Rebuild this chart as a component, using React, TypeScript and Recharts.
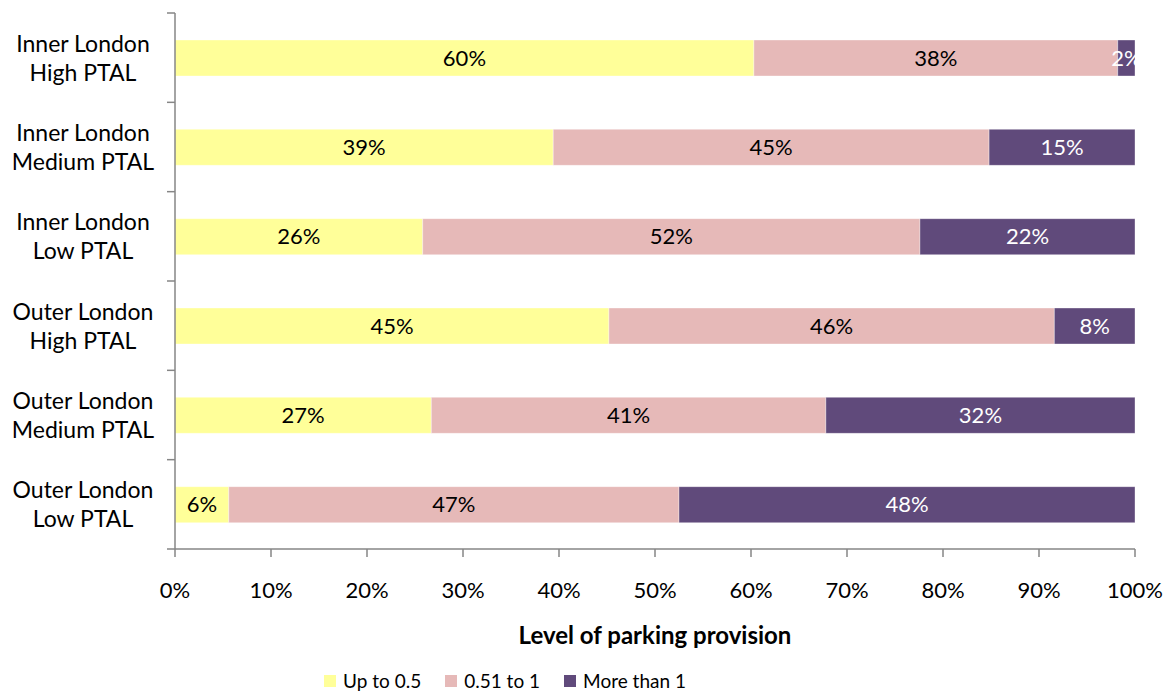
import {
  Bar,
  BarChart,
  Label,
  LabelList,
  Legend,
  XAxis,
  YAxis,
} from "recharts";

const categories = [
  "Inner London\nHigh PTAL",
  "Inner London\nMedium PTAL",
  "Inner London\nLow PTAL",
  "Outer London\nHigh PTAL",
  "Outer London\nMedium PTAL",
  "Outer London\nLow PTAL",
];

const upTo05 = [60.3, 39.4, 25.8, 45.2, 26.7, 5.6];
const to1 = [37.9, 45.4, 51.8, 46.4, 41.1, 46.9];
const moreThan1 = [1.8, 15.2, 22.4, 8.4, 32.2, 47.5];

const xTicks = [0, 10, 20, 30, 40, 50, 60, 70, 80, 90, 100];

const series = [
  { key: "a", name: "Up to 0.5", color: "#FFFF99", text: "#000" },
  { key: "b", name: "0.51 to 1", color: "#E6B9B8", text: "#000" },
  { key: "c", name: "More than 1", color: "#604A7B", text: "#fff" },
];

const data = categories.map((name, i) => ({
  name,
  a: upTo05[i],
  b: to1[i],
  c: moreThan1[i],
}));

const FONT = "Lato, 'Noto Sans', sans-serif";
const AXIS = "#868686";

// category labels on two lines, plus Excel-style tick marks on the band edges
const CategoryTick = ({ x, y, payload, index, visibleTicksCount }: any) => {
  const lines = String(payload.value).split("\n");
  const half = payload.offset ?? 0;
  const isLast = index === visibleTicksCount - 1;
  return (
    <g>
      {half > 0 && (
        <line x1={x} x2={x - 8} y1={y - half} y2={y - half} stroke={AXIS} strokeWidth={1.5} />
      )}
      {half > 0 && isLast && (
        <line x1={x} x2={x - 8} y1={y + half} y2={y + half} stroke={AXIS} strokeWidth={1.5} />
      )}
      <text x={x - 92} y={y} textAnchor="middle" fontSize={23} fill="#000">
        {lines.map((line, i) => (
          <tspan key={line} x={x - 92} dy={i === 0 ? -6 : 29}>
            {line}
          </tspan>
        ))}
      </text>
    </g>
  );
};

const LegendContent = ({ payload }: any) => {
  const items = [...(payload || [])].sort(
    (p: any, q: any) =>
      series.findIndex((s) => s.name === p.value) -
      series.findIndex((s) => s.name === q.value)
  );
  return (
    <div
      style={{
        display: "flex",
        justifyContent: "center",
        alignItems: "center",
        gap: 24,
        fontSize: 19,
        color: "#000",
        lineHeight: "22px",
        paddingTop: 21,
      }}
    >
      {items.map((p: any) => (
        <div key={p.value} style={{ display: "flex", alignItems: "center" }}>
          <span
            style={{
              display: "inline-block",
              width: 12,
              height: 12,
              background: p.color,
              marginRight: 7,
            }}
          />
          {p.value}
        </div>
      ))}
    </div>
  );
};

export default function App() {
  return (
    <div style={{ fontFamily: FONT }}>
      <BarChart
        width={1164}
        height={683}
        data={data}
        layout="vertical"
        margin={{ top: 5, right: 37, bottom: 0, left: 0 }}
      >
        <YAxis
          type="category"
          dataKey="name"
          width={167}
          tick={<CategoryTick />}
          tickLine={false}
          tickSize={0}
          tickMargin={0}
          axisLine={{ stroke: AXIS, strokeWidth: 1.5 }}
          interval={0}
        />
        <XAxis
          type="number"
          domain={[0, 100]}
          ticks={xTicks}
          tickFormatter={(v) => `${v}%`}
          height={100}
          tickSize={8}
          tickMargin={25}
          tick={{ fontSize: 22, fill: "#000" }}
          axisLine={{ stroke: AXIS, strokeWidth: 1.5 }}
          tickLine={{ stroke: AXIS, strokeWidth: 1.5 }}
          interval={0}
        >
          <Label
            value="Level of parking provision"
            position="insideBottom"
            offset={5}
            style={{ fontSize: 24, fontWeight: 700, fill: "#000" }}
          />
        </XAxis>
        <Legend
          verticalAlign="bottom"
          height={42}
          content={<LegendContent />}
          wrapperStyle={{ left: 0, width: 994, bottom: 0, height: 42 }}
        />
        {series.map((s) => (
          <Bar
            key={s.key}
            dataKey={s.key}
            name={s.name}
            stackId="s"
            fill={s.color}
            stroke="rgba(255,255,255,0.35)"
            barSize={36}
            isAnimationActive={false}
          >
            <LabelList
              dataKey={s.key}
              position="center"
              formatter={(v: any) => `${Math.round(Number(v))}%`}
              style={{ fontSize: 22, fill: s.text }}
            />
          </Bar>
        ))}
      </BarChart>
    </div>
  );
}
